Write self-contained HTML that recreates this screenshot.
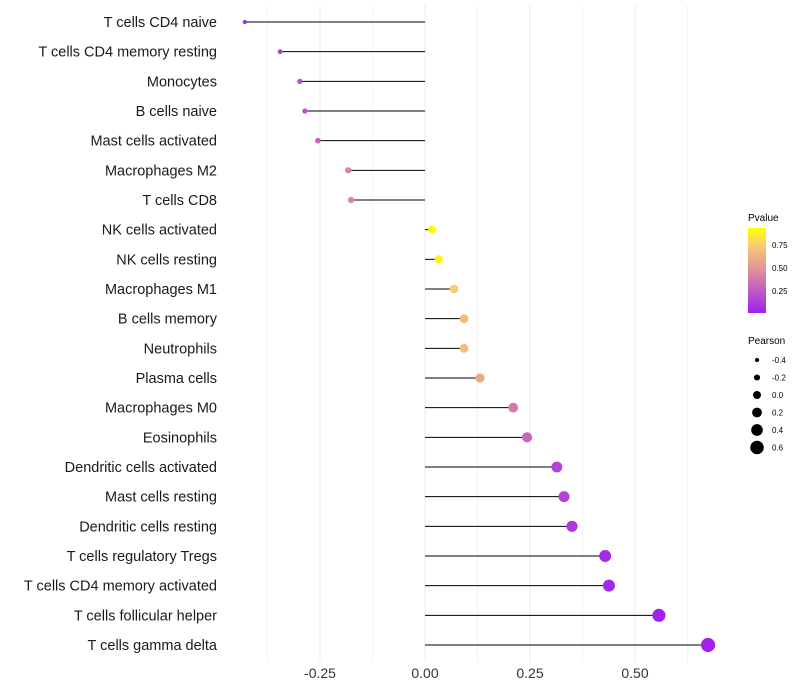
<!DOCTYPE html>
<html><head><meta charset="utf-8"><style>
body{margin:0;background:#fff;}
svg{font-family:"Liberation Sans",sans-serif;display:block}
</style></head><body>
<svg id="chart" width="800" height="700">
<defs><linearGradient id="pg" x1="0" y1="1" x2="0" y2="0">
<stop offset="0" stop-color="#a020f0"/><stop offset="0.5" stop-color="#e0909a"/><stop offset="0.8" stop-color="#f8cc70"/><stop offset="1" stop-color="#ffff00"/></linearGradient></defs>
<g id="grid"></g><g id="marks"></g><g id="ylabels"></g><g id="xticks"></g>
<g>
<text x="748" y="221" font-size="10" fill="#000">Pvalue</text>
<rect x="748" y="228" width="18" height="85" fill="url(#pg)"/>
<text x="772" y="248" font-size="8">0.75</text>
<text x="772" y="271" font-size="8">0.50</text>
<text x="772" y="294" font-size="8">0.25</text>
</g>
<g id="sizeleg">
<text x="748" y="344" font-size="10">Pearson</text>
</g>
</svg>
<script>
const categories=["T cells CD4 naive","T cells CD4 memory resting","Monocytes","B cells naive","Mast cells activated","Macrophages M2","T cells CD8","NK cells activated","NK cells resting","Macrophages M1","B cells memory","Neutrophils","Plasma cells","Macrophages M0","Eosinophils","Dendritic cells activated","Mast cells resting","Dendritic cells resting","T cells regulatory  Tregs ","T cells CD4 memory activated","T cells follicular helper","T cells gamma delta"];
const pearson=[-0.429,-0.345,-0.298,-0.286,-0.255,-0.183,-0.176,0.017,0.033,0.069,0.093,0.093,0.131,0.21,0.243,0.314,0.331,0.35,0.429,0.438,0.557,0.674];
const pvalues=[0.01,0.12,0.2,0.22,0.3,0.45,0.45,0.99,0.95,0.8,0.72,0.72,0.62,0.4,0.32,0.15,0.15,0.1,0.05,0.04,0.01,0.01];
const xTicks=[-0.25,0,0.25,0.5];
const xTickLabels=["-0.25","0.00","0.25","0.50"];
const sizeLegend=[-0.4,-0.2,0.0,0.2,0.4,0.6];
const sizeLegendLabels=["-0.4","-0.2","0.0","0.2","0.4","0.6"];
const NS="http://www.w3.org/2000/svg";
const x=v=>425+v*420;
const y=i=>22+i*(623/21);
const r=v=>2+(v+0.43)*4.6;
function mk(t,a,p){const e=document.createElementNS(NS,t);for(const k in a)e.setAttribute(k,a[k]);p.appendChild(e);return e;}
function lerp(a,b,t){return a.map((c,i)=>Math.round(c+(b[i]-c)*t));}
function col(p){const st=[[0,[160,32,240]],[0.5,[224,144,154]],[0.8,[248,204,112]],[1,[255,255,0]]];
for(let i=1;i<st.length;i++){if(p<=st[i][0]){const t=(p-st[i-1][0])/(st[i][0]-st[i-1][0]);return "rgb("+lerp(st[i-1][1],st[i][1],t).join(",")+")";}}return "rgb(255,255,0)";}
const g=document.getElementById('grid');
for(let v=-0.375;v<=0.65;v+=0.125){const l=mk('line',{x1:x(v),x2:x(v),y1:5,y2:662,stroke:'#ebebeb','stroke-width':Math.abs((v*4)%1)<1e-6?1:0.6},g);

}
const m=document.getElementById('marks'),yl=document.getElementById('ylabels');
categories.forEach((c,i)=>{
const s=mk('line',{x1:x(0),x2:x(pearson[i]),y1:y(i),y2:y(i),stroke:'#000','stroke-width':1},m);


const d=mk('circle',{cx:x(pearson[i]),cy:y(i),r:r(pearson[i]),fill:col(pvalues[i])},m);


const t=mk('text',{x:217,y:y(i)+5,'text-anchor':'end','font-size':14.5,fill:'#1a1a1a'},yl);t.textContent=c;


});
const xt=document.getElementById('xticks');
xTicks.forEach((v,i)=>{const t=mk('text',{x:x(v),y:678,'text-anchor':'middle','font-size':14,fill:'#333'},xt);t.textContent=xTickLabels[i];

});
const sl=document.getElementById('sizeleg');
sizeLegend.forEach((v,i)=>{const cy=360+i*17.5;
const c=mk('circle',{cx:757,cy:cy,r:r(v),fill:'#000'},sl);


const t=mk('text',{x:772,y:cy+3,'font-size':8},sl);t.textContent=sizeLegendLabels[i];

});
</script>
</body></html>
